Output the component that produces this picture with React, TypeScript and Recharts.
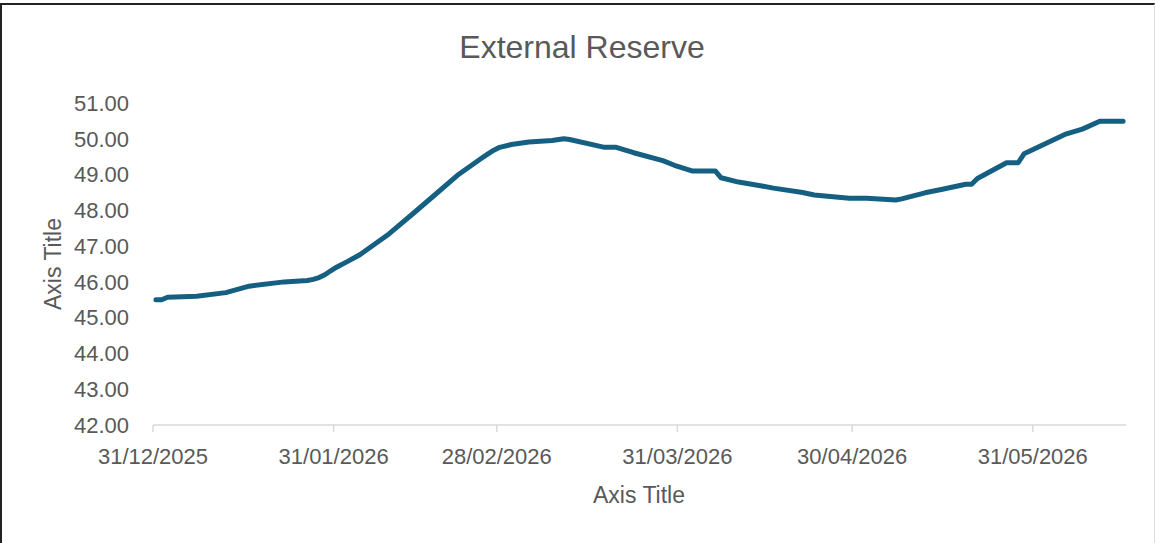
import React from 'react';
import { LineChart, Line, XAxis, YAxis } from 'recharts';

const dates = [
  '2026-01-01', '2026-01-02', '2026-01-03', '2026-01-08', '2026-01-13', '2026-01-17',
  '2026-01-23', '2026-01-27', '2026-01-28', '2026-01-29', '2026-01-30', '2026-01-31',
  '2026-02-01', '2026-02-03', '2026-02-05', '2026-02-10',
  '2026-02-14', '2026-02-18', '2026-02-22', '2026-02-26', '2026-02-27', '2026-02-28',
  '2026-03-01', '2026-03-03',
  '2026-03-06', '2026-03-10', '2026-03-12', '2026-03-13', '2026-03-19', '2026-03-21',
  '2026-03-24', '2026-03-29', '2026-03-31', '2026-04-03', '2026-04-07', '2026-04-08',
  '2026-04-11', '2026-04-15', '2026-04-17', '2026-04-22', '2026-04-24', '2026-04-30',
  '2026-05-03', '2026-05-08', '2026-05-09', '2026-05-13', '2026-05-16', '2026-05-20',
  '2026-05-21', '2026-05-22', '2026-05-27', '2026-05-29', '2026-05-30', '2026-06-02',
  '2026-06-06', '2026-06-09', '2026-06-12', '2026-06-16',
];

const reserves = [
  45.5, 45.5, 45.57, 45.6, 45.7, 45.88,
  46.0, 46.04, 46.07, 46.12, 46.2, 46.31,
  46.41, 46.58, 46.76, 47.34,
  47.89, 48.45, 49.01, 49.47, 49.58, 49.68,
  49.76, 49.84,
  49.91, 49.95, 50.0, 49.98, 49.76, 49.76,
  49.61, 49.39, 49.26, 49.1, 49.1, 48.91,
  48.79, 48.68, 48.62, 48.5, 48.43, 48.34,
  48.34, 48.29, 48.32, 48.49, 48.59, 48.73,
  48.73, 48.89, 49.33, 49.33, 49.58, 49.81,
  50.12, 50.27, 50.49, 50.49,
];

const xTickDates = ['2025-12-31', '2026-01-31', '2026-02-28', '2026-03-31', '2026-04-30', '2026-05-31'];
const xEndDate = '2026-06-16';
const yTicks = [42, 43, 44, 45, 46, 47, 48, 49, 50, 51];

const ORIGIN = Date.UTC(2025, 11, 31);
const dayOf = (s: string) => {
  const [y, m, d] = s.split('-').map(Number);
  return Math.round((Date.UTC(y, m - 1, d) - ORIGIN) / 86400000);
};
const fmt = (day: number) => {
  const dt = new Date(ORIGIN + Math.round(day) * 86400000);
  const dd = String(dt.getUTCDate()).padStart(2, '0');
  const mm = String(dt.getUTCMonth() + 1).padStart(2, '0');
  return `${dd}/${mm}/${dt.getUTCFullYear()}`;
};

const data = dates.map((d, i) => ({ t: dayOf(d) - 0.5, v: reserves[i] }));
const xTicks = xTickDates.map(dayOf);
const xMax = dayOf(xEndDate);

const FONT = "'Liberation Sans', Arial, sans-serif";
const TEXT = '#595959';

export default function App() {
  return (
    <div style={{ position: 'absolute', left: 0, top: 0, width: 1155, height: 543, background: '#fff' }}>
      <div
        style={{
          position: 'absolute', left: 0, top: 3, width: 1155, height: 540, boxSizing: 'border-box',
          borderTop: '2px solid #222', borderLeft: '2px solid #222', borderRight: '1px solid #dedede',
        }}
      />
      <LineChart width={1155} height={543} data={data} margin={{ top: 103, right: 29, left: 0, bottom: 0 }}>
        <XAxis
          type="number"
          dataKey="t"
          domain={[0, xMax]}
          ticks={xTicks}
          interval={0}
          tickFormatter={fmt}
          height={118}
          axisLine={{ stroke: '#d9d9d9', strokeWidth: 1.5 }}
          tickLine={{ stroke: '#d9d9d9', strokeWidth: 1.5 }}
          tickSize={7}
          tickMargin={16}
          tick={{ fill: TEXT, fontSize: 22, fontFamily: FONT }}
        />
        <YAxis
          type="number"
          domain={[42, 51]}
          ticks={yTicks}
          interval={0}
          tickFormatter={(v: number) => v.toFixed(2)}
          width={153}
          axisLine={false}
          tickLine={false}
          tickSize={6}
          tickMargin={18}
          tick={{ fill: TEXT, fontSize: 22, fontFamily: FONT }}
        />
        <Line
          type="linear"
          dataKey="v"
          stroke="#156082"
          strokeWidth={5}
          strokeLinecap="round"
          strokeLinejoin="round"
          dot={false}
          activeDot={false}
          isAnimationActive={false}
        />
      </LineChart>
      <svg width={1155} height={543} style={{ position: 'absolute', left: 0, top: 0, pointerEvents: 'none' }}>
        <text x={582} y={58} textAnchor="middle" fill={TEXT} fontSize={32} fontFamily={FONT}>External Reserve</text>
        <text x={639} y={503} textAnchor="middle" fill={TEXT} fontSize={23} fontFamily={FONT}>Axis Title</text>
        <text x={61} y={264} textAnchor="middle" fill={TEXT} fontSize={23} fontFamily={FONT} transform="rotate(-90 61 264)">Axis Title</text>
      </svg>
    </div>
  );
}
